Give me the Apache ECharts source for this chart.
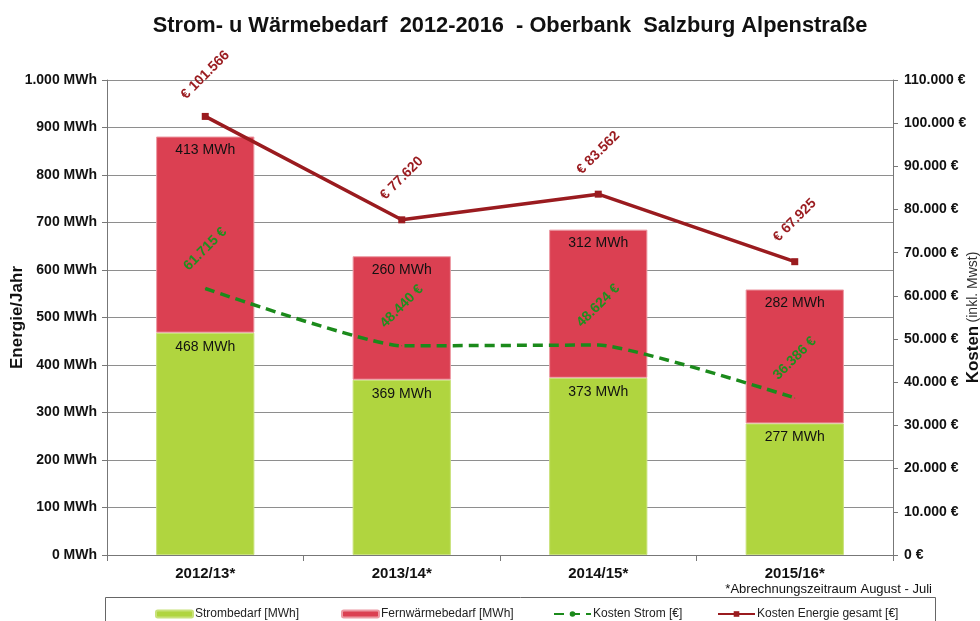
<!DOCTYPE html>
<html>
<head>
<meta charset="utf-8">
<script src="https://cdn.jsdelivr.net/npm/echarts@6/dist/echarts.min.js"></script>
<style>
  html, body { margin: 0; padding: 0; background: #fff; }
  #chart { width: 980px; height: 621px; }
</style>
</head>
<body>
<div id="chart"></div>
<script type="text/javascript">

var categories = ['2012/13*', '2013/14*', '2014/15*', '2015/16*'];
var strom = [468, 369, 373, 277];          // MWh
var fernwaerme = [413, 260, 312, 282];     // MWh
var kostenStrom = [61715, 48440, 48624, 36386];     // €
var kostenGesamt = [101566, 77620, 83562, 67925];   // €

function dots(v) {
    // 1000 -> "1.000"
    return String(Math.round(v)).replace(/\B(?=(\d{3})+(?!\d))/g, '.');
}

var narrow = '"Liberation Sans Narrow", "Liberation Sans", Arial, sans-serif';
var sans = '"Liberation Sans", Arial, sans-serif';

var myChart = echarts.init(document.getElementById('chart'));
var option = {
    animation: false,
    backgroundColor: '#fff',
    title: {
        text: 'Strom- u Wärmebedarf  2012-2016  - Oberbank  Salzburg Alpenstraße',
        left: 505,
        textAlign: 'center',
        top: 10,
        textStyle: { fontFamily: sans, fontSize: 21.8, fontWeight: 'bold', color: '#111' }
    },
    grid: { left: 107, right: 87, top: 80, bottom: 66, outerBoundsMode: 'none', containLabel: false },
    legend: [
        { data: ['Strombedarf [MWh]'], left: 150, top: 603 },
        { data: ['Fernwärmebedarf [MWh]'], left: 336, top: 603 },
        { data: ['Kosten Strom [€]'], left: 548, top: 603 },
        { data: ['Kosten Energie gesamt [€]'], left: 712, top: 603 }
    ].map(function (l) {
        l.itemGap = 4;
        l.itemWidth = 37;
        l.itemHeight = 7;
        l.textStyle = { fontFamily: narrow, fontSize: 12, color: '#222', padding: [0, 0, 0, -3] };
        l.selectedMode = false;
        return l;
    }),
    xAxis: {
        type: 'category',
        data: categories,
        axisLine: { lineStyle: { color: '#777', width: 1 } },
        axisTick: { show: true, length: 6, lineStyle: { color: '#777' } },
        axisLabel: { fontFamily: narrow, fontSize: 15, fontWeight: 'bold', color: '#111', margin: 11 }
    },
    yAxis: [
        {
            type: 'value',
            min: 0, max: 1000, interval: 100,
            name: 'Energie/Jahr',
            nameLocation: 'middle',
            nameRotate: 90,
            nameGap: 81,
            nameMoveOverlap: false,
            nameTextStyle: { fontFamily: sans, fontSize: 17, fontWeight: 'bold', color: '#111' },
            axisLine: { show: true, lineStyle: { color: '#777' } },
            axisTick: { show: true, length: 5, lineStyle: { color: '#777' } },
            axisLabel: {
                fontFamily: sans, fontSize: 14, fontWeight: 'bold', color: '#111', margin: 10,
                formatter: function (v) { return dots(v) + ' MWh'; }
            },
            splitLine: { lineStyle: { color: '#8e8e8e', width: 1 } }
        },
        {
            type: 'value',
            min: 0, max: 110000, interval: 10000,
            name: '{b|Kosten} {n|(inkl. Mwst)}',
            nameLocation: 'middle',
            nameRotate: 90,
            nameGap: 72,
            nameMoveOverlap: false,
            nameTextStyle: {
                rich: {
                    b: { fontFamily: sans, fontSize: 17, fontWeight: 'bold', color: '#111' },
                    n: { fontFamily: sans, fontSize: 14, color: '#333' }
                }
            },
            axisLine: { show: true, lineStyle: { color: '#777' } },
            axisTick: { show: true, length: 5, lineStyle: { color: '#777' } },
            axisLabel: {
                fontFamily: sans, fontSize: 14, fontWeight: 'bold', color: '#111', margin: 11,
                formatter: function (v) { return dots(v) + ' €'; }
            },
            splitLine: { show: false }
        }
    ],
    series: [
        {
            name: 'Strombedarf [MWh]',
            type: 'bar',
            stack: 'energie',
            barWidth: '50%',
            data: strom,
            itemStyle: { color: '#b0d53f', borderColor: '#c8e27a', borderWidth: 1 },
            label: {
                show: true, position: 'insideTop', distance: 7,
                fontFamily: sans, fontSize: 14, color: '#111',
                formatter: function (p) { return p.value + ' MWh'; }
            }
        },
        {
            name: 'Fernwärmebedarf [MWh]',
            type: 'bar',
            stack: 'energie',
            barWidth: '50%',
            data: fernwaerme,
            itemStyle: { color: '#db4052', borderColor: '#ec9aa4', borderWidth: 1 },
            label: {
                show: true, position: 'insideTop', distance: 7,
                fontFamily: sans, fontSize: 14, color: '#111',
                formatter: function (p) { return p.value + ' MWh'; }
            }
        },
        {
            name: 'Kosten Strom [€]',
            type: 'line',
            yAxisIndex: 1,
            data: kostenStrom,
            smooth: 0.15,
            symbol: 'circle',
            symbolSize: 1,
            showSymbol: true,
            lineStyle: { color: '#1b8a1b', width: 3.5, type: [10, 6] },
            itemStyle: { color: '#1b8a1b' },
            label: {
                show: true, position: 'top', distance: 39,
                rotate: 45, align: 'center', verticalAlign: 'middle',
                fontFamily: sans, fontSize: 14, fontWeight: 'bold', color: '#1f8f1f',
                formatter: function (p) { return dots(p.value) + ' €'; }
            },
            z: 5
        },
        {
            name: 'Kosten Energie gesamt [€]',
            type: 'line',
            yAxisIndex: 1,
            data: kostenGesamt,
            symbol: 'rect',
            symbolSize: 7,
            lineStyle: { color: '#9a1b1f', width: 3.5 },
            itemStyle: { color: '#9a1b1f' },
            label: {
                show: true, position: 'top', distance: 38,
                rotate: 45, align: 'center', verticalAlign: 'middle',
                fontFamily: sans, fontSize: 14, fontWeight: 'bold', color: '#9a1b1f',
                formatter: function (p) { return '€ ' + dots(p.value); }
            },
            z: 6
        }
    ],
    graphic: [
        {
            type: 'rect',
            shape: { x: 105.5, y: 597.5, width: 830, height: 40 },
            style: { fill: 'none', stroke: '#666', lineWidth: 1 },
            silent: true, z: -1
        },
        {
            type: 'text',
            x: 932, y: 589,
            style: {
                text: '*Abrechnungszeitraum August - Juli',
                fontFamily: narrow, fontSize: 13, fill: '#111',
                align: 'right', verticalAlign: 'middle'
            }
        }
    ]
};
myChart.setOption(option);

</script>
</body>
</html>
